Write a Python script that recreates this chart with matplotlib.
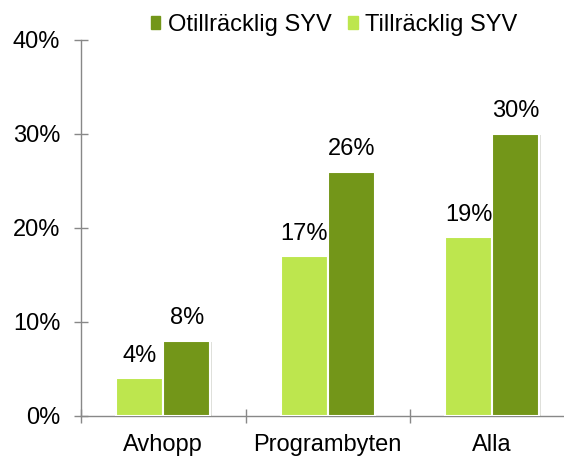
import matplotlib.pyplot as plt
import matplotlib.patheffects as pe
from matplotlib.patches import Patch
import numpy as np

plt.rcParams['font.family'] = ['Liberation Sans', 'DejaVu Sans']

categories = ["Avhopp", "Programbyten", "Alla"]
tillracklig = [4, 17, 19]
otillracklig = [8, 26, 30]

light = "#bde64e"
dark = "#739619"
axis_col = "#888888"

fig = plt.figure(figsize=(5.64, 4.57), dpi=100)
ax = fig.add_axes([81 / 564, 1 - 416 / 457, 1 - 81 / 564, 376 / 457])

x = np.arange(len(categories))
w = 0.285
shadow = [pe.SimplePatchShadow(offset=(1, -1), alpha=0.15), pe.Normal()]
b1 = ax.bar(x - w / 2, tillracklig, w, color=light, edgecolor="white", linewidth=1.5, zorder=3)
b2 = ax.bar(x + w / 2, otillracklig, w, color=dark, edgecolor="white", linewidth=1.5, zorder=3)
for b in list(b1) + list(b2):
    b.set_path_effects(shadow)

for xi, v in zip(x - w / 2, tillracklig):
    ax.annotate(f"{v}%", (xi, v), xytext=(0, 12), textcoords="offset points",
                ha="center", va="baseline", fontsize=17)
for xi, v in zip(x + w / 2, otillracklig):
    ax.annotate(f"{v}%", (xi, v), xytext=(0, 12), textcoords="offset points",
                ha="center", va="baseline", fontsize=17)

ax.set_xlim(-0.5, (564 - 81) / 164.5 - 0.5)
ax.set_ylim(0, 40)
ax.set_yticks([0, 10, 20, 30, 40])
ax.set_yticklabels([f"{t}%" for t in [0, 10, 20, 30, 40]])

ax.set_xticks([-0.5, 0.5, 1.5])
ax.set_xticklabels([])
ax.set_xticks(x, minor=True)
ax.set_xticklabels(categories, minor=True)

ax.tick_params(axis="y", direction="inout", length=10, width=1, color=axis_col, pad=10, labelsize=17)
ax.tick_params(axis="x", which="major", direction="inout", length=10, width=1, color=axis_col)
ax.tick_params(axis="x", which="minor", length=0, pad=13, labelsize=17)

for s in ["top", "right"]:
    ax.spines[s].set_visible(False)
for s in ["left", "bottom"]:
    ax.spines[s].set_color(axis_col)
    ax.spines[s].set_linewidth(1)

handles = [Patch(color=dark, label="Otillräcklig SYV"), Patch(color=light, label="Tillräcklig SYV")]
fig.legend(handles=handles, loc="center", bbox_to_anchor=(334 / 564, 1 - 25 / 457), ncol=2,
           frameon=False, fontsize=17, handlelength=0.42, handleheight=0.42,
           handletextpad=0.3, columnspacing=0.72, borderpad=0)

fig.savefig("out.png", dpi=100)
